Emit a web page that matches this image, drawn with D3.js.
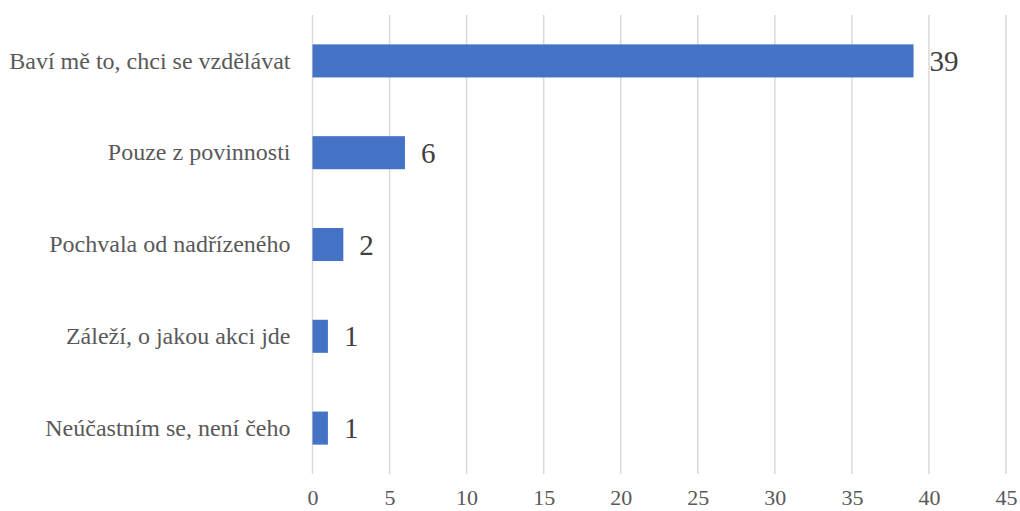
<!DOCTYPE html>
<html>
<head>
<meta charset="utf-8">
<script src="https://cdn.jsdelivr.net/npm/d3@7"></script>
<style>
    body { margin: 0; background: #fff; }
</style>
</head>
<body>
<svg id="chart" width="1020" height="511"></svg>
<script>
"use strict";

const categories = [
    'Baví mě to, chci se vzdělávat',
    'Pouze z povinnosti',
    'Pochvala od nadřízeného',
    'Záleží, o jakou akci jde',
    'Neúčastním se, není čeho'
];
const values = [39, 6, 2, 1, 1];
const xTicks = [0, 5, 10, 15, 20, 25, 30, 35, 40, 45];

const FONT = 'Liberation Serif';
const margin = { top: 15, right: 14, bottom: 37, left: 312.5 };
const width = 1020, height = 511;

const svg = d3.select('#chart');

const x = d3.scaleLinear()
    .domain([0, 45])
    .range([margin.left, width - margin.right]);

const y = d3.scaleBand()
    .domain(categories)
    .range([margin.top, height - margin.bottom])
    .paddingInner(0.64)
    .paddingOuter(0.32);

// ------------------------- Gridlines -------------------------

svg.append('g')
    .selectAll('line')
    .data(xTicks)
    .join('line')
    .attr('x1', d => x(d))
    .attr('x2', d => x(d))
    .attr('y1', margin.top)
    .attr('y2', height - margin.bottom)
    .attr('stroke', '#d9d9d9')
    .attr('stroke-width', 1.5);

// ------------------------- Bars -------------------------

const rows = categories.map((c, i) => ({ name: c, value: values[i] }));

svg.append('g')
    .selectAll('rect')
    .data(rows)
    .join('rect')
    .attr('x', x(0))
    .attr('y', d => y(d.name))
    .attr('width', d => x(d.value) - x(0))
    .attr('height', y.bandwidth())
    .attr('fill', '#4472c4');

svg.append('g')
    .selectAll('text')
    .data(rows)
    .join('text')
    .attr('x', d => x(d.value) + 16)
    .attr('y', d => y(d.name) + y.bandwidth() / 2)
    .attr('dy', '0.35em')
    .style('font-family', FONT)
    .style('font-size', '29px')
    .style('fill', '#404040')
    .text(d => d.value);

// ------------------------- Axes -------------------------

const yAxis = svg.append('g')
    .attr('transform', `translate(${margin.left},0)`)
    .call(d3.axisLeft(y).tickSize(0).tickPadding(22));
yAxis.attr('font-family', FONT).attr('font-size', 24);
yAxis.select('.domain').remove();
yAxis.selectAll('text')
    .style('font-family', FONT)
    .style('font-size', '24px')
    .style('fill', '#595959');

// tick labels sit tight against the bottom edge, as in the original
const xAxis = svg.append('g')
    .attr('transform', `translate(0,${height - margin.bottom})`)
    .call(d3.axisBottom(x).tickValues(xTicks).tickSize(0).tickPadding(15));
xAxis.attr('font-family', FONT).attr('font-size', 22);
xAxis.select('.domain').remove();
xAxis.selectAll('text')
    .style('font-family', FONT)
    .style('font-size', '22px')
    .style('fill', '#595959');
</script>
</body>
</html>
